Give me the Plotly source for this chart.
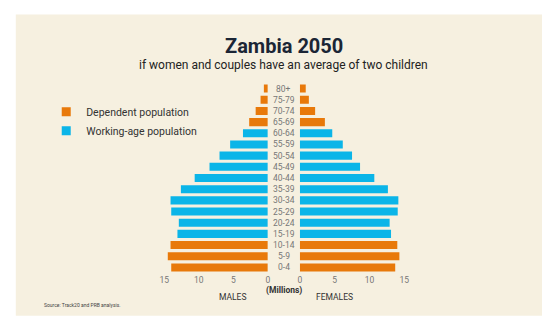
import plotly.graph_objects as go

ages = ["0-4", "5-9", "10-14", "15-19", "20-24", "25-29", "30-34", "35-39", "40-44",
        "45-49", "50-54", "55-59", "60-64", "65-69", "70-74", "75-79", "80+"]
males = [14.0, 14.5, 14.1, 13.1, 12.9, 14.0, 14.1, 12.6, 10.6,
         8.45, 7.0, 5.46, 3.6, 2.7, 1.76, 1.05, 0.57]
females = [13.7, 14.3, 14.0, 13.1, 12.9, 14.06, 14.15, 12.65, 10.7,
           8.65, 7.5, 6.17, 4.66, 3.6, 2.2, 1.3, 0.85]
groups = ["Dependent population"] * 3 + ["Working-age population"] * 10 + ["Dependent population"] * 4
group_names = ["Dependent population", "Working-age population"]
colors = {"Dependent population": "#E8790A", "Working-age population": "#0BB5E8"}
tick_vals = [0, 5, 10, 15]

W, H = 547, 316
mt, mb = 83.4, 42.7
ph = H - mt - mb

def py(p):  # pixel -> paper y
    return (H - mb - p) / ph

fig = go.Figure()
for g in group_names:
    ym = [a for a, gg in zip(ages, groups) if gg == g]
    xm = [v for v, gg in zip(males, groups) if gg == g]
    xf = [v for v, gg in zip(females, groups) if gg == g]
    fig.add_trace(go.Bar(y=ym, x=xm, orientation="h", xaxis="x", yaxis="y",
                         marker=dict(color=colors[g], line=dict(width=0)),
                         showlegend=False, name=g))
    fig.add_trace(go.Bar(y=ym, x=xf, orientation="h", xaxis="x2", yaxis="y",
                         marker=dict(color=colors[g], line=dict(width=0)),
                         showlegend=False, name=g))
    fig.add_trace(go.Scatter(x=[None], y=[None], mode="markers", name=g,
                             marker=dict(symbol="square", size=9, color=colors[g]),
                             xaxis="x2", yaxis="y", showlegend=True))

tickfont = dict(family="Roboto", size=8.5, color="#777777")
fig.update_layout(
    width=W, height=H,
    margin=dict(l=0, r=0, t=mt, b=mb),
    paper_bgcolor="white", plot_bgcolor="rgba(0,0,0,0)",
    barmode="overlay", bargap=0.28,
    xaxis=dict(domain=[162.3 / W, 267.7 / W], range=[15, 0], tickvals=tick_vals,
               showgrid=False, zeroline=False, showline=False, tickfont=tickfont,
               anchor="y", fixedrange=True),
    xaxis2=dict(domain=[300.3 / W, 406.7 / W], range=[0, 15], tickvals=tick_vals,
                showgrid=False, zeroline=False, showline=False, tickfont=tickfont,
                anchor="y", fixedrange=True),
    yaxis=dict(type="category", categoryorder="array", categoryarray=ages,
               range=[-0.5, 16.5], showticklabels=False, showgrid=False,
               zeroline=False, showline=False, fixedrange=True),
    legend=dict(x=42 / W, y=py(97.7), xanchor="left", yanchor="top",
                font=dict(family="Roboto", size=10.5, color="#333333"),
                bgcolor="rgba(0,0,0,0)", tracegroupgap=0, itemclick=False),
    shapes=[dict(type="rect", xref="paper", yref="paper", x0=11 / W, x1=1,
                 y0=py(H), y1=py(15), fillcolor="#F6F0E0", line=dict(width=0),
                 layer="below")],
)

ann = []
for a in ages:
    ann.append(dict(x=284 / W, y=a, xref="paper", yref="y", text=a, showarrow=False,
                    font=dict(family="Roboto", size=8.5, color="#777777"),
                    xanchor="center", yanchor="middle"))
ann += [
    dict(x=284 / W, y=py(46.5), xref="paper", yref="paper", text="<b>Zambia 2050</b>",
         showarrow=False, font=dict(family="Roboto", size=20, color="#1B2535"),
         xanchor="center", yanchor="middle"),
    dict(x=284 / W, y=py(65.5), xref="paper", yref="paper",
         text="if women and couples have an average of two children",
         showarrow=False, font=dict(family="Roboto", size=12, color="#222222"),
         xanchor="center", yanchor="middle"),
    dict(x=284 / W, y=py(290.5), xref="paper", yref="paper", text="<b>(Millions)</b>",
         showarrow=False, font=dict(family="Roboto", size=8.5, color="#333333"),
         xanchor="center", yanchor="middle"),
    dict(x=5, y=py(297.5), xref="x", yref="paper", text="MALES",
         showarrow=False, font=dict(family="Roboto", size=8.5, color="#333333"),
         xanchor="center", yanchor="middle"),
    dict(x=5, y=py(297.5), xref="x2", yref="paper", text="FEMALES",
         showarrow=False, font=dict(family="Roboto", size=8.5, color="#333333"),
         xanchor="center", yanchor="middle"),
    dict(x=38 / W, y=py(305.5), xref="paper", yref="paper",
         text="Source: Track20 and PRB analysis.",
         showarrow=False, font=dict(family="Roboto", size=5, color="#444444"),
         xanchor="left", yanchor="middle"),
]
fig.update_layout(annotations=ann)

fig.write_html("out.html", config={"displayModeBar": False},
               post_script="document.body.style.margin='0px';")
